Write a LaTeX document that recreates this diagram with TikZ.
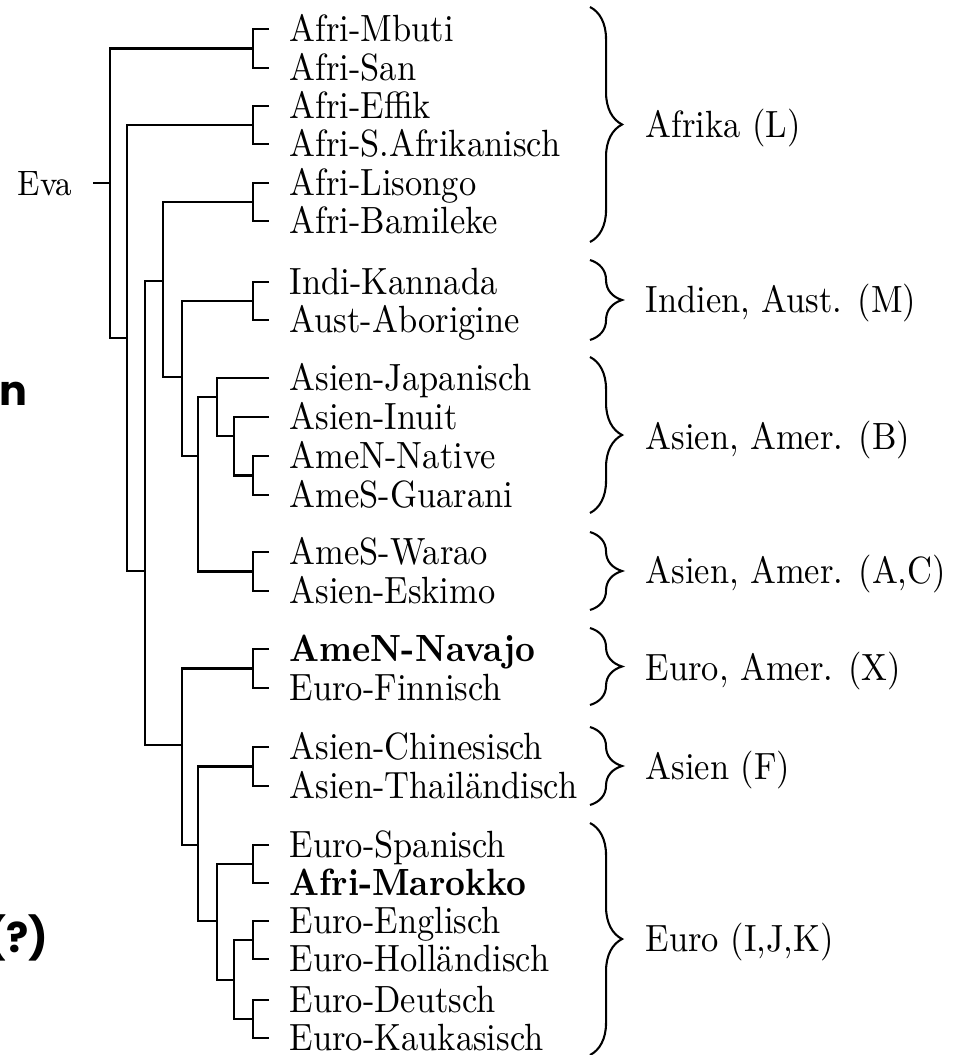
\documentclass[tikz,border=0pt]{standalone}
\usepackage{fontspec}
\usepackage{tikz}
\usetikzlibrary{decorations.pathreplacing}
\newfontfamily\asidefont{Poppins}
\tikzset{
  taxon/.style={anchor=west, yscale=1.1, inner xsep=5.8pt, inner ysep=0pt, text height=8pt, text depth=1.2pt, font=\normalsize},
  region/.style={anchor=west, yscale=1.1, inner sep=0pt, text height=8pt, text depth=1.2pt, font=\normalsize},
  branch/.style={line width=0.6pt},
  groupbrace/.style={line width=0.6pt, decorate, decoration={brace, amplitude=9.3pt}},
  aside/.style={anchor=base east, inner sep=0pt, font=\asidefont\bfseries\fontsize{12}{14}\selectfont}
}

\begin{document}
\begin{tikzpicture}[x=0.29pt,y=-0.29pt]
  \useasboundingbox (0,0) rectangle (960,1055);

  \node[aside] (wander) at (28,405) {en};
  \node[aside] (unsure) at (49,952) {(?)};

  \node[taxon, anchor=east, font=\fontsize{9.3}{11}\selectfont] (eva) at (93,183) {Eva};

  \node[taxon] (mbuti) at (269,29) {Afri-Mbuti};
  \node[taxon] (san) at (269,68) {Afri-San};
  \node[taxon] (effik) at (269,106) {Afri-Effik};
  \node[taxon] (safrika) at (269,144) {Afri-S.Afrikanisch};
  \node[taxon] (lisongo) at (269,183) {Afri-Lisongo};
  \node[taxon] (bamileke) at (269,221) {Afri-Bamileke};
  \node[taxon] (kannada) at (269,282) {Indi-Kannada};
  \node[taxon] (aborigine) at (269,320) {Aust-Aborigine};
  \node[taxon] (japan) at (269,378) {Asien-Japanisch};
  \node[taxon] (inuit) at (269,417) {Asien-Inuit};
  \node[taxon] (native) at (269,456) {AmeN-Native};
  \node[taxon] (guarani) at (269,495) {AmeS-Guarani};
  \node[taxon] (warao) at (269,552) {AmeS-Warao};
  \node[taxon] (eskimo) at (269,591) {Asien-Eskimo};
  \node[taxon] (navajo) at (269,649) {\bfseries AmeN-Navajo};
  \node[taxon] (finn) at (269,688) {Euro-Finnisch};
  \node[taxon] (china) at (269,747) {Asien-Chinesisch};
  \node[taxon] (thai) at (269,786) {Asien-Thailändisch};
  \node[taxon] (spain) at (269,845) {Euro-Spanisch};
  \node[taxon] (marokko) at (269,883) {\bfseries Afri-Marokko};
  \node[taxon] (england) at (269,921) {Euro-Englisch};
  \node[taxon] (holland) at (269,959) {Euro-Holländisch};
  \node[taxon] (deutsch) at (269,1000) {Euro-Deutsch};
  \node[taxon] (kaukasus) at (269,1038) {Euro-Kaukasisch};

  \coordinate (pMbSa) at (253,48.5);
  \coordinate (pEfSa) at (253,125);
  \coordinate (pLiBa) at (253,202);
  \coordinate (pKaAb) at (253,301);
  \coordinate (pNaGu) at (253,475.5);
  \coordinate (pWaEs) at (253,571.5);
  \coordinate (pNvFi) at (253,668.5);
  \coordinate (pChTh) at (253,766.5);
  \coordinate (pSpMa) at (253,864);
  \coordinate (pEnHo) at (253,940);
  \coordinate (pDeKa) at (253,1019);

  \coordinate (root) at (110,183);
  \coordinate (n2) at (127,338);
  \coordinate (n3) at (145,571);
  \coordinate (n4) at (163,281);
  \coordinate (n5) at (182,377);
  \coordinate (n6) at (198,456);
  \coordinate (n7) at (217,397);
  \coordinate (n8) at (234,436);
  \coordinate (n9) at (182,745);
  \coordinate (n10) at (198,845);
  \coordinate (n11) at (217,921);
  \coordinate (n12) at (234,980);

  \draw[branch] (eva.east) -- (root);
  \draw[branch] (pMbSa) -| (root) |- (n2);
  \draw[branch] (pEfSa) -| (n2) |- (n3);
  \draw[branch] (n4) -| (n3) |- (n9);
  \draw[branch] (pLiBa) -| (n4) |- (n5);
  \draw[branch] (pKaAb) -| (n5) |- (n6);
  \draw[branch] (n7) -| (n6) |- (pWaEs);
  \draw[branch] (japan.west) -| (n7) |- (n8);
  \draw[branch] (inuit.west) -| (n8) |- (pNaGu);
  \draw[branch] (pNvFi) -| (n9) |- (n10);
  \draw[branch] (pChTh) -| (n10) |- (n11);
  \draw[branch] (pSpMa) -| (n11) |- (n12);
  \draw[branch] (pEnHo) -| (n12) |- (pDeKa);

  \draw[branch] (mbuti.west) -| (pMbSa) |- (san.west);
  \draw[branch] (effik.west) -| (pEfSa) |- (safrika.west);
  \draw[branch] (lisongo.west) -| (pLiBa) |- (bamileke.west);
  \draw[branch] (kannada.west) -| (pKaAb) |- (aborigine.west);
  \draw[branch] (native.west) -| (pNaGu) |- (guarani.west);
  \draw[branch] (warao.west) -| (pWaEs) |- (eskimo.west);
  \draw[branch] (navajo.west) -| (pNvFi) |- (finn.west);
  \draw[branch] (china.west) -| (pChTh) |- (thai.west);
  \draw[branch] (spain.west) -| (pSpMa) |- (marokko.west);
  \draw[branch] (england.west) -| (pEnHo) |- (holland.west);
  \draw[branch] (deutsch.west) -| (pDeKa) |- (kaukasus.west);

  \draw[groupbrace] (590,7) -- (590,242);
  \draw[groupbrace] (590,260) -- (590,340);
  \draw[groupbrace] (590,357) -- (590,513);
  \draw[groupbrace] (590,532) -- (590,610);
  \draw[groupbrace] (590,628) -- (590,705);
  \draw[groupbrace] (590,727) -- (590,805);
  \draw[groupbrace] (590,823) -- (590,1055);

  \node[region] (afrika) at (645,125) {Afrika (L)};
  \node[region] (indien) at (645,300) {Indien, Aust. (M)};
  \node[region] (asienB) at (645,437) {Asien, Amer. (B)};
  \node[region] (asienAC) at (645,571) {Asien, Amer. (A,C)};
  \node[region] (euroX) at (645,668) {Euro, Amer. (X)};
  \node[region] (asienF) at (645,767) {Asien (F)};
  \node[region] (euroIJK) at (645,939) {Euro (I,J,K)};
\end{tikzpicture}
\end{document}
